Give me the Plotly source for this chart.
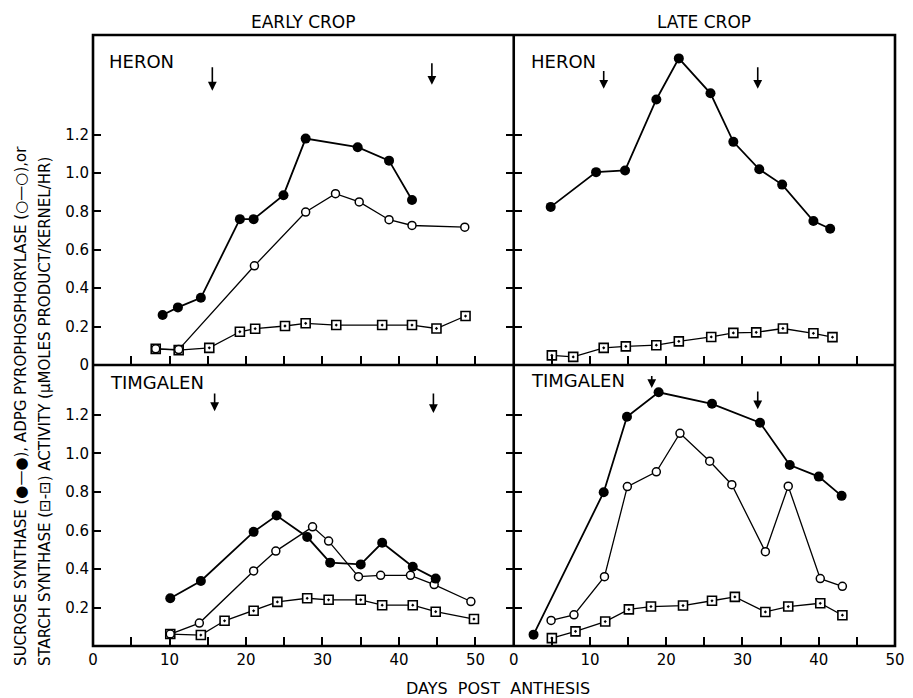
import plotly.graph_objects as go

# ---------------- data (days post anthesis, activity) ----------------
# HERON, early crop
he_ss_day = [9.1, 11.1, 14.1, 19.2, 21.0, 24.9, 27.8, 34.6, 38.7, 41.7]
he_ss_val = [0.26, 0.30, 0.35, 0.76, 0.76, 0.885, 1.18, 1.135, 1.065, 0.86]
he_ad_day = [8.2, 11.2, 21.1, 27.8, 31.7, 34.8, 38.7, 41.7, 48.6]
he_ad_val = [0.084, 0.08, 0.517, 0.797, 0.893, 0.85, 0.757, 0.727, 0.718]
he_st_day = [8.2, 11.2, 15.2, 19.2, 21.2, 25.1, 27.8, 31.8, 37.8, 41.7, 44.9, 48.7]
he_st_val = [0.084, 0.077, 0.089, 0.173, 0.189, 0.203, 0.217, 0.208, 0.208, 0.208, 0.19, 0.255]

# HERON, late crop
hl_ss_day = [4.85, 10.8, 14.6, 18.7, 21.65, 25.8, 28.8, 32.2, 35.2, 39.3, 41.5]
hl_ss_val = [0.824, 1.005, 1.014, 1.384, 1.598, 1.416, 1.163, 1.02, 0.94, 0.75, 0.71]
hl_st_day = [5.0, 7.8, 11.8, 14.7, 18.7, 21.65, 25.9, 28.8, 31.8, 35.3, 39.3, 41.8]
hl_st_val = [0.05, 0.042, 0.089, 0.097, 0.103, 0.123, 0.146, 0.167, 0.17, 0.19, 0.165, 0.145]

# TIMGALEN, early crop
te_ss_day = [10.1, 14.1, 21.0, 24.0, 28.0, 31.0, 35.0, 37.8, 41.8, 44.8]
te_ss_val = [0.248, 0.338, 0.593, 0.678, 0.566, 0.433, 0.424, 0.536, 0.412, 0.35]
te_ad_day = [10.1, 13.9, 21.0, 23.9, 28.7, 30.8, 34.7, 37.6, 41.5, 44.6, 49.4]
te_ad_val = [0.062, 0.119, 0.39, 0.493, 0.619, 0.545, 0.36, 0.367, 0.367, 0.319, 0.231]
te_st_day = [10.1, 14.1, 17.2, 21.0, 24.1, 28.0, 30.8, 35.0, 37.8, 41.8, 44.8, 49.8]
te_st_val = [0.062, 0.057, 0.131, 0.183, 0.229, 0.248, 0.24, 0.24, 0.212, 0.212, 0.178, 0.14]

# TIMGALEN, late crop
tl_ss_day = [2.6, 11.8, 14.85, 19.0, 26.0, 32.3, 36.2, 40.0, 43.0]
tl_ss_val = [0.059, 0.799, 1.191, 1.318, 1.258, 1.16, 0.94, 0.88, 0.78]
tl_ad_day = [4.9, 7.9, 11.9, 14.9, 18.7, 21.8, 25.7, 28.6, 33.0, 36.0, 40.2, 43.1]
tl_ad_val = [0.133, 0.162, 0.36, 0.828, 0.905, 1.105, 0.96, 0.838, 0.49, 0.83, 0.35, 0.31]
tl_st_day = [5.0, 8.1, 12.0, 15.1, 18.0, 22.2, 26.0, 29.0, 33.0, 36.0, 40.2, 43.1]
tl_st_val = [0.041, 0.076, 0.127, 0.19, 0.205, 0.21, 0.235, 0.255, 0.177, 0.205, 0.222, 0.16]

# harvest arrows: (day, tail value, tip value) per panel
arrows_tl = [(15.6, 1.56, 1.43), (44.3, 1.58, 1.46)]
arrows_tr = [(11.8, 1.54, 1.44), (32.0, 1.56, 1.44)]
arrows_bl = [(15.9, 1.32, 1.22), (44.5, 1.32, 1.21)]
arrows_br = [(18.1, 1.41, 1.34), (32.0, 1.33, 1.23)]

x_ticks = [0, 10, 20, 30, 40, 50]
y_ticks_top = [0, 0.2, 0.4, 0.6, 0.8, 1.0, 1.2]
y_text_top = ["0", "0.2", "0.4", "0.6", "0.8", "1.0", "1.2"]
y_ticks_bot = [0.2, 0.4, 0.6, 0.8, 1.0, 1.2]
y_text_bot = ["0.2", "0.4", "0.6", "0.8", "1.0", "1.2"]

FONT = "DejaVu Sans"
fig = go.Figure()

def add_ss(d, v, xa, ya):
    fig.add_trace(go.Scatter(x=d, y=v, xaxis=xa, yaxis=ya, mode="lines+markers",
                             line=dict(color="black", width=1.8),
                             marker=dict(symbol="circle", size=10, color="black"),
                             showlegend=False, hoverinfo="skip"))

def add_ad(d, v, xa, ya):
    fig.add_trace(go.Scatter(x=d, y=v, xaxis=xa, yaxis=ya, mode="lines+markers",
                             line=dict(color="black", width=1.3),
                             marker=dict(symbol="circle", size=8, color="white",
                                         line=dict(color="black", width=1.5)),
                             showlegend=False, hoverinfo="skip"))

def add_st(d, v, xa, ya):
    fig.add_trace(go.Scatter(x=d, y=v, xaxis=xa, yaxis=ya, mode="lines+markers",
                             line=dict(color="black", width=1.3),
                             marker=dict(symbol="square-dot", size=9, color="white",
                                         line=dict(color="black", width=1.6)),
                             showlegend=False, hoverinfo="skip"))

add_st(he_st_day, he_st_val, "x", "y")
add_ad(he_ad_day, he_ad_val, "x", "y")
add_ss(he_ss_day, he_ss_val, "x", "y")
add_st(hl_st_day, hl_st_val, "x2", "y2")
add_ss(hl_ss_day, hl_ss_val, "x2", "y2")
add_st(te_st_day, te_st_val, "x3", "y3")
add_ad(te_ad_day, te_ad_val, "x3", "y3")
add_ss(te_ss_day, te_ss_val, "x3", "y3")
add_st(tl_st_day, tl_st_val, "x4", "y4")
add_ad(tl_ad_day, tl_ad_val, "x4", "y4")
add_ss(tl_ss_day, tl_ss_val, "x4", "y4")

XSPLIT = 0.5246
YSPLIT = 0.46
LW = 2.6
TW = 2
TL = 9

def xax(domain, rng, anchor, labels):
    return dict(domain=domain, range=rng, anchor=anchor, showline=True, linewidth=1,
                linecolor="black", mirror=True,
                ticks="inside", ticklen=TL, tickwidth=TW,
                tickcolor="black", tickvals=x_ticks, showticklabels=labels,
                ticklabeloverflow="allow",
                tickfont=dict(family=FONT, size=15, color="black"),
                minor=dict(tickvals=[5, 15, 25, 35, 45, 55], ticks="inside", ticklen=TL,
                           tickwidth=TW, tickcolor="black", showgrid=False),
                showgrid=False, zeroline=False, fixedrange=True)

def yax(domain, rng, anchor, vals, texts, labels, mirror):
    return dict(domain=domain, range=rng, anchor=anchor, showline=True, linewidth=1,
                linecolor="black", mirror=mirror,
                ticks="inside", ticklen=TL - 1, tickwidth=TW,
                tickcolor="black", tickvals=vals, ticktext=texts, showticklabels=labels,
                tickfont=dict(family=FONT, size=15, color="black"),
                showgrid=False, zeroline=False, fixedrange=True)

fig.update_layout(
    width=913, height=698,
    margin=dict(l=93, r=8, t=35, b=52),
    plot_bgcolor="white", paper_bgcolor="white",
    xaxis=xax([0, XSPLIT], [0, 55], "y", False),
    xaxis2=xax([XSPLIT, 1], [0, 50], "y2", False),
    xaxis3=xax([0, XSPLIT], [0, 55], "y3", True),
    xaxis4=xax([XSPLIT, 1], [0, 50], "y4", True),
    yaxis=yax([YSPLIT, 1], [0, 1.72], "x", y_ticks_top, y_text_top, True, "ticks"),
    yaxis2=yax([YSPLIT, 1], [0, 1.72], "x2", y_ticks_top, y_text_top, False, True),
    yaxis3=yax([0, YSPLIT], [0, 1.46], "x3", y_ticks_bot, y_text_bot, True, "ticks"),
    yaxis4=yax([0, YSPLIT], [0, 1.46], "x4", y_ticks_bot, y_text_bot, False, True),
)

# frame: outer box and the two dividers, drawn heavier over the axis lines
frame = dict(type="line", xref="paper", yref="paper", line=dict(color="black", width=LW), layer="above")
shapes = [
    dict(type="rect", xref="paper", yref="paper", x0=0, x1=1, y0=0, y1=1,
         line=dict(color="black", width=LW), layer="above"),
    dict(frame, x0=XSPLIT, x1=XSPLIT, y0=0, y1=1),
    dict(frame, x0=0, x1=1, y0=YSPLIT, y1=YSPLIT),
]

ann = []
def txt(x, y, s, xref="paper", yref="paper", size=16, xanchor="center", yanchor="middle", angle=0):
    ann.append(dict(x=x, y=y, text=s, xref=xref, yref=yref, showarrow=False,
                    xanchor=xanchor, yanchor=yanchor, textangle=angle,
                    font=dict(family=FONT, size=size, color="black")))

txt(XSPLIT / 2, 1.021, "EARLY CROP", size=17)
txt((XSPLIT + 1) / 2, 1.021, "LATE CROP", size=17)
txt(0.505, -0.069, "DAYS\u00a0\u00a0POST\u00a0\u00a0ANTHESIS")
txt(1.8, 1.58, "HERON", "x", "y", 18, "left")
txt(2.0, 1.58, "HERON", "x2", "y2", 18, "left")
txt(2.0, 1.37, "TIMGALEN", "x3", "y3", 18, "left")
txt(2.0, 1.38, "TIMGALEN", "x4", "y4", 18, "left")

line1 = "SUCROSE SYNTHASE (\u25cf\u2014\u25cf), ADPG PYROPHOSPHORYLASE (\u25cb\u2014\u25cb),or"
line2 = "STARCH SYNTHASE (\u22a1-\u22a1) ACTIVITY (\u03bcMOLES PRODUCT/KERNEL/HR)"
txt(-93 / 812 + 20 / 812, -0.036, line1, size=15, yanchor="bottom", angle=-90)
txt(-93 / 812 + 45 / 812, -0.036, line2, size=15, yanchor="bottom", angle=-90)

for arrs, xa, ya in [(arrows_tl, "x", "y"), (arrows_tr, "x2", "y2"),
                     (arrows_bl, "x3", "y3"), (arrows_br, "x4", "y4")]:
    for d, tail, tip in arrs:
        ann.append(dict(x=d, y=tip, ax=d, ay=tail, xref=xa, yref=ya, axref=xa, ayref=ya,
                        showarrow=True, arrowhead=2, arrowsize=1.1, arrowwidth=1.6,
                        arrowcolor="black", text=""))

fig.update_layout(annotations=ann, shapes=shapes)
fig.write_html("out.html")
